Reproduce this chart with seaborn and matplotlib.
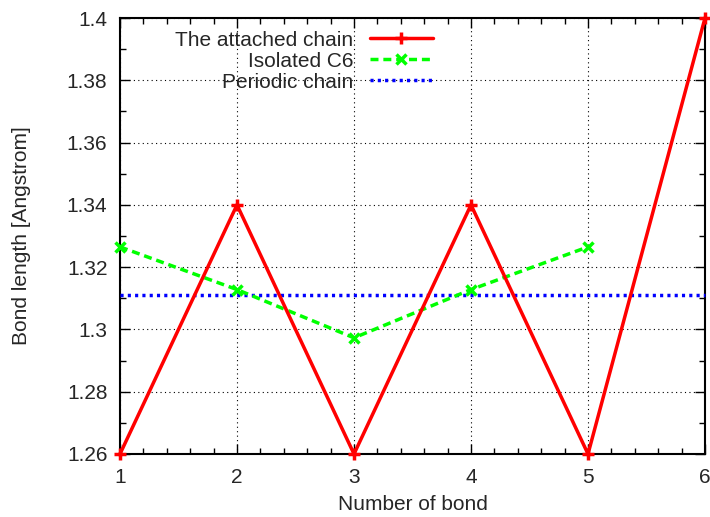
import matplotlib
matplotlib.use("Agg")
import matplotlib.pyplot as plt
import seaborn as sns
import pandas as pd
from matplotlib.ticker import MultipleLocator

bonds = [1, 2, 3, 4, 5, 6]
attached = [1.26, 1.34, 1.26, 1.34, 1.26, 1.40]
iso_bonds = [1, 2, 3, 4, 5]
isolated = [1.3265, 1.3128, 1.2973, 1.3128, 1.3265]
periodic_value = 1.311
periodic_x = [1, 6]
labels = ["The attached chain", "Isolated C6", "Periodic chain"]

sns.set_style("ticks")
plt.rcParams['font.family'] = ['Liberation Sans', 'DejaVu Sans']
plt.rcParams['font.size'] = 15

fig = plt.figure(figsize=(7.10, 5.17), dpi=100)
ax = fig.add_axes([120/710, (517-454)/517, (705-120)/710, (454-18)/517])

df_a = pd.DataFrame({"x": bonds, "y": attached})
df_i = pd.DataFrame({"x": iso_bonds, "y": isolated})
df_p = pd.DataFrame({"x": periodic_x, "y": [periodic_value]*len(periodic_x)})

sns.lineplot(data=df_a, x="x", y="y", ax=ax, color="#ff0000", lw=2.5, zorder=5)
sns.lineplot(data=df_i, x="x", y="y", ax=ax, color="#00ff00", lw=2.5, zorder=4)
sns.lineplot(data=df_p, x="x", y="y", ax=ax, color="#0000ff", lw=2.5, zorder=3)

la, li, lp = ax.lines[0], ax.lines[1], ax.lines[2]
la.set_linestyle("-")
la.set_marker("+"); la.set_markersize(9); la.set_markeredgewidth(2.5)
la.set_markeredgecolor("#ff0000"); la.set_markerfacecolor("#ff0000")
li.set_linestyle((0, (2.3, 1.4)))
li.set_marker("x"); li.set_markersize(7); li.set_markeredgewidth(2.5)
li.set_markeredgecolor("#00ff00"); li.set_markerfacecolor("#00ff00")
lp.set_linestyle((0, (0.9, 1.2)))
lp.set_marker("")
for ln in (la, li, lp):
    ln.set_clip_on(False)

ax.set_xlim(1, 6)
ax.set_ylim(1.26, 1.40)
ax.xaxis.set_major_locator(MultipleLocator(1))
ax.xaxis.set_minor_locator(MultipleLocator(0.2))
ax.yaxis.set_minor_locator(MultipleLocator(0.01))
ax.set_yticks([1.26, 1.28, 1.30, 1.32, 1.34, 1.36, 1.38, 1.40])
ax.set_yticklabels(["1.26", "1.28", "1.3", "1.32", "1.34", "1.36", "1.38", "1.4"])
ax.tick_params(which="both", direction="in", top=True, right=True, color="black")
ax.tick_params(which="major", length=7, width=1, labelsize=15)
ax.tick_params(axis="x", which="major", pad=10)
ax.tick_params(axis="y", which="major", pad=9)
ax.tick_params(which="minor", length=4, width=1)
ax.grid(True, which="major", color="black", linestyle=(0, (1, 3)), lw=0.8)
for s in ax.spines.values():
    s.set_linewidth(1.5)
    s.set_color("black")

ax.set_xlabel("Number of bond", fontsize=15, labelpad=6)
ax.set_ylabel("Bond length [Angstrom]", fontsize=15, labelpad=26)

leg = ax.legend(handles=[la, li, lp], labels=labels, loc="upper right",
                bbox_to_anchor=((445-120)/585, 1.0), frameon=False, markerfirst=False,
                handlelength=3.0, fontsize=15, labelspacing=0.1, handletextpad=0.8,
                borderaxespad=0.2)
leg._legend_box.align = "right"
for t in leg.get_texts():
    t.set_ha("right")

fig.savefig("out.png", dpi=100)
